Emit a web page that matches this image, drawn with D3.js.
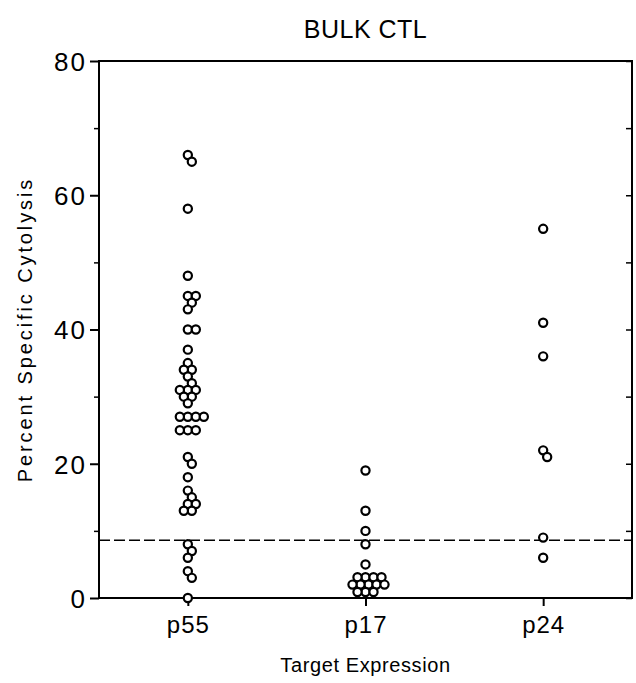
<!DOCTYPE html>
<html>
<head>
<meta charset="utf-8">
<script src="https://cdn.jsdelivr.net/npm/d3@7"></script>
<style>
  body { margin: 0; background: #fff; }
  text { font-family: "Liberation Sans", Arial, sans-serif; fill: #000; }
</style>
</head>
<body>
<div id="chart"></div>
<script>
var categories = ["p55", "p17", "p24"];
var p55Values = [66, 65, 58, 48, 45, 45, 44, 43, 40, 40, 37, 35, 34, 34, 33, 32, 31, 31, 31, 30, 30, 29,
                 27, 27, 27, 27, 25, 25, 25, 21, 20, 18, 16, 15, 14, 14, 13, 13, 8, 7, 6, 4, 3, 0];
var p17Values = [19, 13, 10, 8, 5, 3.1, 3.1, 3.1, 3.1, 2, 2, 2, 2, 2, 0.9, 0.9, 0.9];
var p24Values = [55, 41, 36, 22, 21, 9, 6];
var cutoff = 8.6;
var yTicks = [0, 20, 40, 60, 80];
var yMinorTicks = [10, 30, 50, 70];

var seriesByCategory = { p55: p55Values, p17: p17Values, p24: p24Values };

function drawChart() {
    const width = 636;
    const height = 683;
    const left = 99, right = 632, top = 61, bottom = 598;
    const r = 4.1;

    const xScale = d3.scalePoint()
                        .domain(categories)
                        .range([left, right])
                        .padding(0.5);
    const yScale = d3.scaleLinear()
                        .domain([0, 80])
                        .range([bottom, top]);

    var svg = d3.select("#chart")
        .append("svg")
        .attr("width", width)
        .attr("height", height);

    // title
    svg.append("text")
        .attr("x", xScale("p17"))
        .attr("y", 38)
        .attr("text-anchor", "middle")
        .style("font-size", "25px")
        .style("letter-spacing", "0.5px")
        .text("BULK CTL");

    // frame
    svg.append("rect")
        .attr("x", left).attr("y", top)
        .attr("width", right - left).attr("height", bottom - top)
        .attr("fill", "none").attr("stroke", "#000").attr("stroke-width", 2);

    // left axis
    const yAxis = d3.axisLeft(yScale).tickValues(yTicks).tickSize(9).tickPadding(3);
    const gy = svg.append("g").attr("transform", "translate(" + left + ",0)").call(yAxis);
    gy.select(".domain").remove();
    gy.selectAll("line").attr("stroke-width", 2);
    gy.selectAll("text").style("font-size", "26px").style("letter-spacing", "2px").attr("dy", "0.36em");

    const yMinor = d3.axisLeft(yScale).tickValues(yMinorTicks).tickSize(5).tickFormat("");
    const gym = svg.append("g").attr("transform", "translate(" + left + ",0)").call(yMinor);
    gym.select(".domain").remove();
    gym.selectAll("line").attr("stroke-width", 1.5);

    // right axis, ticks pointing inward
    const yRight = d3.axisLeft(yScale).tickValues(yTicks.concat(yMinorTicks)).tickSize(6).tickFormat("");
    const gyr = svg.append("g").attr("transform", "translate(" + right + ",0)").call(yRight);
    gyr.select(".domain").remove();
    gyr.selectAll("line").attr("stroke-width", 1.5);

    // bottom axis
    const xAxis = d3.axisBottom(xScale).tickSize(8).tickPadding(10);
    const gx = svg.append("g").attr("transform", "translate(0," + bottom + ")").call(xAxis);
    gx.select(".domain").remove();
    gx.selectAll("line").attr("stroke-width", 2);
    gx.selectAll("text").style("font-size", "24px").style("letter-spacing", "1px");

    // axis titles
    svg.append("text")
        .attr("x", xScale("p17"))
        .attr("y", 672)
        .attr("text-anchor", "middle")
        .style("font-size", "20px")
        .style("letter-spacing", "0.6px")
        .text("Target Expression");

    svg.append("text")
        .attr("transform", "translate(32," + ((top + bottom) / 2) + ") rotate(-90)")
        .attr("text-anchor", "middle")
        .style("font-size", "20px")
        .style("letter-spacing", "2.9px")
        .text("Percent Specific Cytolysis");

    // cutoff line
    svg.append("line")
        .attr("x1", left).attr("x2", right)
        .attr("y1", yScale(cutoff)).attr("y2", yScale(cutoff))
        .attr("stroke", "#000").attr("stroke-width", 1.6)
        .attr("stroke-dasharray", "11,4");

    // simple beeswarm layout
    var points = [];
    categories.forEach(function(cat) {
        var placed = [];
        var vals = seriesByCategory[cat].slice().sort(d3.descending);
        vals.forEach(function(v) {
            var cy = yScale(v);
            var offsets = [0];
            for (var k = 1; k < 60; k++) { offsets.push(k, -k); }
            var cx = xScale(cat);
            for (var i = 0; i < offsets.length; i++) {
                var tx = xScale(cat) + offsets[i];
                var ok = placed.every(function(p) {
                    return Math.hypot(p.cx - tx, p.cy - cy) >= 7.8;
                });
                if (ok) { cx = tx; break; }
            }
            var pt = { cat: cat, value: v, cx: cx, cy: cy };
            placed.push(pt);
            points.push(pt);
        });
    });

    svg.selectAll("circle.pt")
        .data(points)
        .enter()
        .append("circle")
        .attr("class", "pt")
        .attr("cx", (d) => d.cx)
        .attr("cy", (d) => d.cy)
        .attr("r", r)
        .attr("fill", "#fff")
        .attr("stroke", "#000")
        .attr("stroke-width", 2.2);
}

drawChart();
</script>
</body>
</html>
